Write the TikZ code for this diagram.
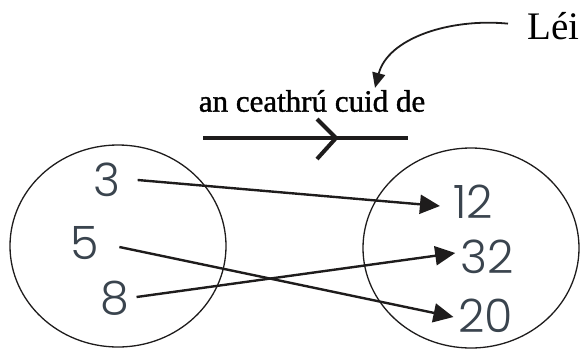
\documentclass[tikz,border=0pt]{standalone}
\usepackage{fontspec}
\setmainfont{Liberation Serif}
\newfontfamily\numfont{Poppins}[UprightFont=*-Light]
\newfontfamily\lblfont{Liberation Serif}[FakeBold=1.2]
\usetikzlibrary{arrows.meta,shapes.geometric}
\definecolor{inkblack}{RGB}{30,28,28}
\definecolor{numgray}{RGB}{58,68,78}
\tikzset{
  setring/.style={draw=inkblack, line width=1.3pt, ellipse, inner sep=0pt},
  num/.style={font=\numfont\fontsize{46}{46}\selectfont, text=numgray, inner sep=0pt},
  map/.style={-{Triangle[length=20pt,width=19pt]}, line width=2.4pt, color=inkblack},
  rulebar/.style={line width=4pt, color=inkblack},
  hint/.style={-{Triangle[length=15pt,width=13pt]}, line width=1.8pt, color=inkblack},
  lbl/.style={font=\lblfont\fontsize{31}{31}\selectfont, inner sep=0pt},
}
\begin{document}
\begin{tikzpicture}[x=1pt, y=-1pt]
  \useasboundingbox (0,0) rectangle (581,349);

  % the two sets
  \node[setring, minimum width=216pt, minimum height=202pt] (dom) at (118,246) {};
  \node[setring, minimum width=216pt, minimum height=200pt] (cod) at (471,248) {};

  \node[num] (n3)  at (107,180) {3};
  \node[num] (n5)  at (85,243)  {5};
  \node[num] (n8)  at (115,298) {8};
  \node[num] (n12) at (473,202) {12};
  \node[num] (n32) at (487,257) {32};
  \node[num] (n20) at (486,316) {20};

  \draw[map] ([xshift=17pt]n3.east) -- ([xshift=-13pt,yshift=-4pt]n12.west);
  \draw[map] ([xshift=20pt,yshift=-4pt]n5.east) -- ([xshift=-5pt,yshift=-1pt]n20.west);
  \draw[map] ([xshift=7pt,yshift=1pt]n8.east) -- ([xshift=-5pt,yshift=4pt]n32.west);

  % rule label and its arrow
  \node[lbl] (rule) at (312,101) {an ceathrú cuid de};
  \coordinate (barL) at (203,138);
  \coordinate (barR) at (408,138);
  \coordinate (chev) at (336,138);
  \draw[rulebar] (barL) -- (barR);
  \draw[rulebar, line cap=butt] ([shift={(-19pt,19pt)}]chev) -- (chev) -- ([shift={(-19pt,-21pt)}]chev);

  \node[lbl, font=\fontsize{39}{39}\selectfont, anchor=base west] (lei) at (527,39) {Léi};
  \draw[hint] ([xshift=-19pt,yshift=2pt]lei.west)
    .. controls (450,18) and (388,38) .. ([xshift=63pt,yshift=2pt]rule.north);

\end{tikzpicture}
\end{document}
